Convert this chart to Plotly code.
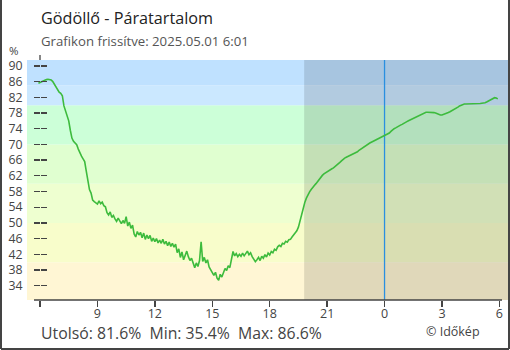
import plotly.graph_objects as go

# ---- data ----
start_hour = 5 + 55 / 60          # first reading 05:55
step_hours = 5 / 60               # 5-minute readings
humidity = [
    # 05:55 - 08:55
    85.6, 85.8, 86.0, 86.3, 86.3, 86.5, 86.6, 86.5, 86.4, 86.0,
    85.3, 84.7, 84.0, 83.3, 83.0, 82.4, 79.8, 78.6, 77.1, 76.0,
    73.6, 71.6, 70.8, 70.2, 69.9, 68.8, 67.8, 67.0, 66.3, 65.6,
    63.2, 61.2, 58.5, 57.6, 55.8, 55.4, 55.2,
    # 09:00 - ...
    54.8, 55.6, 54.9, 55.3, 54.4, 54.1, 52.6, 52.0, 52.8, 51.4,
    51.9, 51.0, 50.4, 51.2, 50.3, 49.8, 50.6, 49.9, 51.6, 49.2,
    50.2, 48.6, 49.4, 47.2, 46.4, 47.8, 46.9, 47.6, 46.2, 47.4,
    45.8, 46.9, 46.0, 46.8, 45.3, 46.1, 45.2, 46.0, 44.9, 45.6,
    44.8, 45.8, 44.6, 45.3, 44.2, 45.1, 44.0, 44.8, 43.8, 44.6,
    42.4, 43.4, 41.2, 42.6, 40.6, 41.9, 42.8, 41.4, 40.4, 41.0,
    39.6, 38.6, 39.8, 38.9, 40.4, 45.2, 40.2, 41.2, 39.8, 40.6,
    38.8, 38.0, 37.2, 36.6, 37.4, 35.9, 35.4, 36.9, 36.2, 37.6,
    38.4, 37.9, 39.1, 38.6, 41.2, 42.7, 41.6, 42.2, 41.4, 42.0,
    41.5, 42.3, 41.6, 42.4, 42.8, 41.9, 42.4, 41.4, 40.8, 40.1,
    40.6, 41.2, 40.4, 41.5, 41.0, 41.9, 41.3, 42.3, 41.8, 42.7,
    42.4, 43.3, 43.0, 43.9, 44.3, 44.0, 44.8, 44.6, 45.3, 45.1,
    45.7, 45.8, 46.4, 46.9, 47.4, 48.0, 48.9, 50.6, 52.6, 54.0,
    55.2, 56.3, 57.2,
    # evening / night
    57.9, 58.5, 58.9, 59.5, 60.0, 60.6, 61.1, 61.6, 62.1, 62.5,
    62.8, 63.0, 63.3, 63.5, 63.8, 64.0, 64.3, 64.6, 64.9, 65.4,
    65.8, 66.2, 66.5, 66.7, 66.9, 67.1, 67.3, 67.5, 67.7, 67.9,
    68.1, 68.5, 68.8, 69.1, 69.4, 69.7, 70.0, 70.2, 70.4, 70.6,
    70.8, 71.0, 71.2, 71.4, 71.6, 71.8, 72.0, 72.3, 72.6, 72.7,
    72.9, 73.3, 73.7, 74.0, 74.2, 74.5, 74.7, 74.9, 75.1, 75.4,
    75.6, 75.8, 76.0, 76.2, 76.4, 76.7, 76.9, 77.2, 77.4, 77.6,
    77.8, 78.0, 78.1, 78.2, 78.2, 78.2, 78.2, 78.2, 78.1, 78.0,
    77.8, 77.6, 77.5, 77.5, 77.6, 77.7, 77.9, 78.1, 78.3, 78.5,
    78.8, 79.0, 79.3, 79.5, 79.8, 80.0, 80.2, 80.3, 80.3, 80.3,
    80.3, 80.3, 80.3, 80.4, 80.3, 80.4, 80.4, 80.4, 80.5, 80.5,
    80.6, 80.8, 81.0, 81.3, 81.5, 81.7, 81.9, 81.8, 81.6,
]
hours = [start_hour + i * step_hours for i in range(len(humidity))]

x_tick_vals = [6, 9, 12, 15, 18, 21, 24, 27, 30]
x_tick_text = ["", "9", "12", "15", "18", "21", "0", "3", "6"]
y_tick_vals = [34, 38, 42, 46, 50, 54, 58, 62, 66, 70, 74, 78, 82, 86, 90]

band_edges = [0, 40, 50, 60, 70, 80, 85, 100]
band_colors = ["#fff6d4", "#f8fdcb", "#eeffd0", "#e0ffd0", "#ccffd8", "#cbe8ff", "#bfe1ff"]

night_start = 19.8
midnight = 24

title_text = "Gödöllő - Páratartalom"
subtitle_text = "Grafikon frissítve: 2025.05.01 6:01"
summary_text = "Utolsó: 81.6%  Min: 35.4%  Max: 86.6%"
credit_text = "© Időkép"

# ---- figure ----
W, H = 510, 350
L, R, T, B = 27, 2, 60, 50
pw = W - L - R
ph = H - T - B

def px_x(px):
    return (px - L) / pw

def px_y(py):
    return 1 - (py - T) / ph

fig = go.Figure()
fig.add_trace(go.Scatter(
    x=hours, y=humidity, mode="lines", line=dict(color="#3dbb3d", width=1.6),
    hoverinfo="skip", showlegend=False,
))
# invisible trace for the overlaying inner tick axis
fig.add_trace(go.Scatter(x=[hours[0]], y=[humidity[0]], yaxis="y2", mode="markers",
                         marker=dict(opacity=0), showlegend=False, hoverinfo="skip"))

shapes = []
for i, c in enumerate(band_colors):
    shapes.append(dict(type="rect", xref="paper", yref="y", x0=0, x1=1,
                       y0=band_edges[i], y1=band_edges[i + 1], fillcolor=c,
                       line=dict(width=0), layer="below"))
shapes.append(dict(type="rect", xref="x", yref="paper", x0=night_start, x1=40,
                   y0=0, y1=1, fillcolor="rgba(0,0,0,0.12)", line=dict(width=0), layer="below"))
shapes.append(dict(type="line", xref="x", yref="paper", x0=midnight, x1=midnight,
                   y0=0, y1=1, line=dict(color="#2a8fe0", width=1.3), layer="below"))
# x axis line
shapes.append(dict(type="line", xref="paper", yref="paper", x0=px_x(34), x1=px_x(502),
                   y0=0, y1=0, line=dict(color="#444", width=1.3)))
# small axis stub above plot
shapes.append(dict(type="line", xref="paper", yref="paper", x0=px_x(40), x1=px_x(40),
                   y0=1, y1=px_y(55), line=dict(color="#444", width=1.3)))
# outer frame (left, right, bottom)
for (x0, y0, x1, y1) in [(1, 0, 1, 349), (509, 0, 509, 349), (1, 349, 509, 349)]:
    shapes.append(dict(type="line", xref="paper", yref="paper", x0=px_x(x0), x1=px_x(x1),
                       y0=px_y(y0), y1=px_y(y1), line=dict(color="#444", width=2)))

font = "Open Sans"
annotations = [
    dict(text=title_text, x=px_x(39), y=px_y(18), xref="paper", yref="paper",
         xanchor="left", yanchor="middle", showarrow=False,
         font=dict(family=font, size=16.2, color="#222")),
    dict(text=subtitle_text, x=px_x(39), y=px_y(41), xref="paper", yref="paper",
         xanchor="left", yanchor="middle", showarrow=False,
         font=dict(family=font, size=13.2, color="#555")),
    dict(text="%", x=px_x(21), y=px_y(51), xref="paper", yref="paper",
         xanchor="right", yanchor="middle", showarrow=False,
         font=dict(family=font, size=11.5, color="#444")),
    dict(text=summary_text.replace("  ", "&nbsp;&nbsp;"), x=px_x(39), y=px_y(333), xref="paper", yref="paper",
         xanchor="left", yanchor="middle", showarrow=False,
         font=dict(family=font, size=15.8, color="#444")),
    dict(text=credit_text, x=px_x(424), y=px_y(331), xref="paper", yref="paper",
         xanchor="left", yanchor="middle", showarrow=False,
         font=dict(family=font, size=12.5, color="#444")),
]

yaxis_common = dict(range=[30.35, 91.5], tickvals=y_tick_vals, showgrid=False, zeroline=False,
                    showline=False, anchor="free", position=px_x(40), ticklen=6,
                    tickcolor="#444", tickwidth=1.3, fixedrange=True, automargin=False)

fig.update_layout(
    width=W, height=H, margin=dict(l=L, r=R, t=T, b=B, autoexpand=False),
    paper_bgcolor="white", plot_bgcolor="white",
    font=dict(family=font, color="#444"),
    xaxis=dict(range=[5.32, 30.45], tickvals=x_tick_vals, ticktext=x_tick_text,
               showgrid=False, zeroline=False, showline=False, ticks="outside",
               ticklen=6, tickcolor="#444", tickwidth=1.3, automargin=False,
               ticklabelstandoff=-4,
               tickfont=dict(size=12.5, color="#444"), fixedrange=True),
    yaxis=dict(**yaxis_common, ticks="outside", tickfont=dict(size=12.3, color="#444"),
               ticklabelstandoff=9),
    yaxis2=dict(**yaxis_common, overlaying="y", side="right", ticks="outside",
                showticklabels=False),
    shapes=shapes, annotations=annotations, showlegend=False,
)

fig.write_html("out.html", config={"displayModeBar": False, "staticPlot": True},
               post_script="document.body.style.margin='0';document.body.style.padding='0';")
